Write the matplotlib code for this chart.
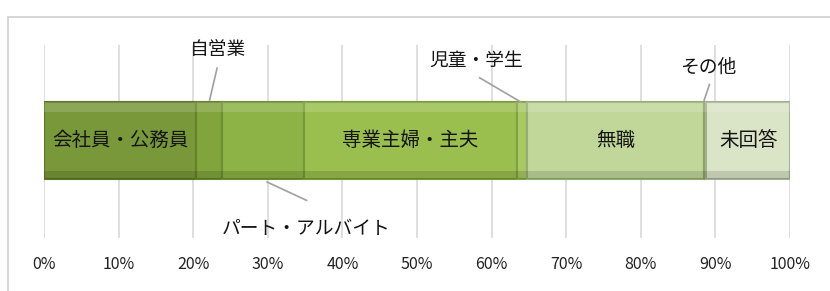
import matplotlib.pyplot as plt
from matplotlib.patches import Rectangle

plt.rcParams['font.family'] = ['Noto Sans CJK JP', 'DejaVu Sans']

# share of respondents by occupation (%)
categories = ['会社員・公務員', '自営業', 'パート・アルバイト', '専業主婦・主夫',
              '児童・学生', '無職', 'その他', '未回答']
values = [20.4, 3.4, 11.1, 28.5, 1.3, 23.8, 0.3, 11.2]
colors = ['#78983a', '#82a43d', '#8db246', '#9abf4e', '#a7c863', '#c1d79a', '#b5cc8a', '#dae4c7']
edges = ['#5a7624', '#63822a', '#6c8f30', '#769a36', '#7fa244', '#96ac70', '#8ca264', '#a4b192']

# labels shown inside the bar
inside = ['会社員・公務員', '専業主婦・主夫', '無職', '未回答']
# labels outside with leader lines: (text x, text y, line start, line end)
callouts = {
    '自営業': (23.3, 0.975, (23.2, 0.88), (22.2, 0.715)),
    'パート・アルバイト': (35.2, 0.05, (35.2, 0.195), (29.9, 0.29)),
    '児童・学生': (58.0, 0.92, (58.4, 0.83), (63.9, 0.705)),
    'その他': (89.0, 0.885, (89.2, 0.795), (88.5, 0.715)),
}

fig = plt.figure(figsize=(8.3, 2.91), dpi=100)
fig.patches.append(Rectangle((8 / 830, -0.1), 1.1, 1 - 17 / 291 + 0.1,
                             transform=fig.transFigure, fill=False,
                             edgecolor='#d0d0d0', linewidth=1.2))
ax = fig.add_axes([44 / 830, 1 - 238 / 291, (790 - 44) / 830, (238 - 45) / 291])

left = 0
yc, h = 0.505, 0.40
for cat, v, c, e in zip(categories, values, colors, edges):
    ax.barh(yc, v, left=left, height=h, color=c, edgecolor=e, linewidth=1.5, zorder=3)
    # bevel highlight / shade
    ax.barh(yc + h / 2 - 0.025, v, left=left, height=0.05, color='white', alpha=0.15,
            linewidth=0, zorder=4)
    ax.barh(yc - h / 2 + 0.02, v, left=left, height=0.04, color='black', alpha=0.12,
            linewidth=0, zorder=4)
    if cat in inside:
        ax.text(left + v / 2, yc, cat, ha='center', va='center', fontsize=14,
                color='#151515', zorder=5)
    if cat in callouts:
        tx, ty, p0, p1 = callouts[cat]
        ax.text(tx, ty, cat, ha='center', va='center', fontsize=13.5, color='#151515')
        ax.plot([p0[0], p1[0]], [p0[1], p1[1]], color='#a0a0a0', linewidth=1.2,
                clip_on=False, zorder=5)
    left += v

ax.set_xlim(0, 100)
ax.set_ylim(0, 1)
ax.set_xticks(range(0, 101, 10))
ax.set_xticklabels([f'{t}%' for t in range(0, 101, 10)], fontsize=11.5, color='#222222')
ax.set_yticks([])
ax.tick_params(axis='x', length=0, pad=13)
ax.grid(axis='x', color='#d9d9d9', linewidth=1.2, zorder=0)
for s in ax.spines.values():
    s.set_visible(False)

fig.savefig('out.png', dpi=100)
